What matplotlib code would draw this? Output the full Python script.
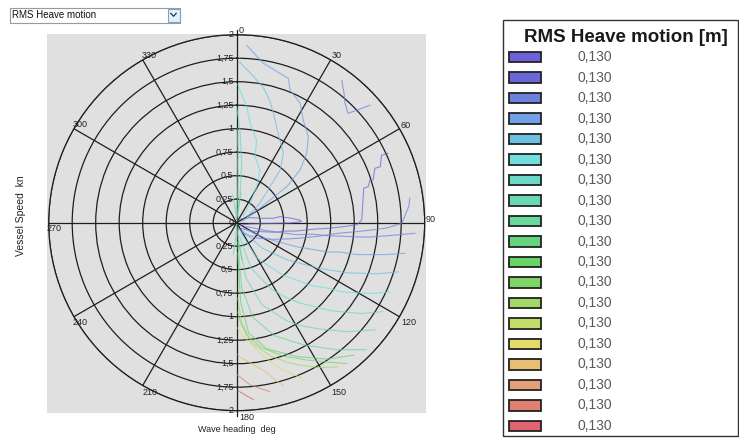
import numpy as np
import matplotlib
matplotlib.use("Agg")
import matplotlib.pyplot as plt
from matplotlib.patches import Rectangle

plt.rcParams['font.family'] = ['Liberation Sans', 'DejaVu Sans']

# ---------------- data ----------------
dropdown_text = "RMS Heave motion"
legend_title = "RMS Heave motion [m]"
legend_values = ["0,130"] * 19
legend_colors = ['#6a62d6', '#6a68d8', '#6e80de', '#70a0e6', '#6cc0e0', '#6edfdc',
                 '#6cd8c8', '#6cd8b2', '#6ad89a', '#66d47c', '#68d468', '#7ed464',
                 '#a2d868', '#c4dc6a', '#e2dc6a', '#e6c070', '#e4a076', '#e28070',
                 '#e26270']
heading_ticks = [0, 30, 60, 90, 120, 150, 180, 210, 240, 270, 300, 330]
speed_ticks = [0.25, 0.5, 0.75, 1.0, 1.25, 1.5, 1.75, 2.0]
speed_tick_labels = ["0,25", "0,5", "0,75", "1", "1,25", "1,5", "1,75", "2"]
x_label = "Wave heading  deg"
y_label = "Vessel Speed  kn"

# contour lines: (wave heading deg, vessel speed kn)
loop_90 = [(40, 0.05), (68.6, 0.15), (80.5, 0.28), (83, 0.39), (82, 0.465), (85, 0.57),
           (87.6, 0.67), (89, 0.69), (90.3, 0.57), (91.4, 0.35), (95.6, 0.14), (120, 0.05)]
line_f = [(65.4, 1.77), (65.0, 1.70), (68.7, 1.64), (68.5, 1.58), (72.6, 1.52), (72.2, 1.49),
          (74.7, 1.45), (74.8, 1.40), (82.8, 1.35), (88.8, 1.33), (91, 1.28), (92, 1.15),
          (93.4, 0.99), (94.5, 0.85), (97.9, 0.64), (100, 0.52), (104, 0.42), (108.7, 0.30),
          (120, 0.18), (140, 0.08)]
line_g = [(82, 1.86), (84.5, 1.84), (89.2, 1.77), (90.2, 1.755), (92, 1.60), (93, 1.45),
          (94.5, 1.25), (96, 1.08), (99, 0.90), (103, 0.72), (108, 0.56), (115, 0.42),
          (126, 0.28), (145, 0.15), (165, 0.06)]
zigzag_40 = [(36.5, 1.88), (40, 1.78), (42, 1.72), (45.5, 1.66), (47, 1.76), (48.6, 1.89)]
low_a = [(111.8, 0.11), (104.9, 0.33), (101.3, 0.65), (98.6, 0.82), (98.2, 0.97), (96.7, 1.29),
         (96.2, 1.42), (95.0, 1.60), (93.4, 1.90)]
low_b = [(126.9, 0.11), (118.1, 0.36), (111.8, 0.69), (107.9, 1.01), (105.8, 1.15),
         (104.9, 1.32), (102.0, 1.63), (100.3, 1.82)]
low_c = [(143.1, 0.11), (135, 0.38), (126.5, 0.66), (119.4, 0.98), (116.8, 1.12),
         (114.4, 1.29), (110.0, 1.59), (106.9, 1.80)]
low_d = [(158.2, 0.12), (150.3, 0.43), (139.1, 0.73), (130.0, 1.04), (126.0, 1.18),
         (123.3, 1.34), (117.7, 1.62), (114.3, 1.79)]
low_e = [(167.9, 0.15), (162.7, 0.50), (152.4, 0.80), (146.0, 0.97), (141.3, 1.10),
         (132.8, 1.38), (126.1, 1.64), (121.3, 1.82)]
low_f = [(173.7, 0.19), (170.7, 0.59), (163.0, 0.91), (153.0, 1.17), (148.5, 1.28),
         (143.0, 1.41), (134.7, 1.65), (127.8, 1.86)]
low_g = [(177.1, 0.21), (175.6, 0.69), (170.4, 1.02), (161.4, 1.27), (156.0, 1.37),
         (150.9, 1.49), (141.8, 1.72), (134.4, 1.93)]
low_h = [(178.1, 0.32), (177.1, 0.85), (173.8, 1.18), (166.6, 1.38), (160.5, 1.47),
         (155.9, 1.56), (146.5, 1.74), (138.6, 1.88)]
low_hi = [(179.3, 0.95), (178, 1.05), (175, 1.20), (169, 1.35), (161, 1.50), (156, 1.58),
          (153, 1.64), (146.5, 1.78), (142, 1.90)]
low_i = [(179.2, 0.80), (177.1, 1.07), (172.9, 1.29), (165.4, 1.47), (160.5, 1.57),
         (157.1, 1.64), (150.5, 1.77), (145.2, 1.87)]
low_j = [(179.5, 1.12), (176.7, 1.21), (172, 1.33), (168.8, 1.45), (166, 1.53), (163.4, 1.62),
         (160, 1.71), (157.3, 1.79)]
low_k = [(179.5, 1.40), (178.6, 1.43), (176, 1.47), (173.3, 1.52), (170, 1.59), (167.7, 1.66),
         (166, 1.73), (164, 1.80)]
low_l = [(179.8, 1.62), (178, 1.66), (175.3, 1.73), (172, 1.78), (168.9, 1.83)]
low_m = [(179.5, 1.79), (178.9, 1.80), (176.5, 1.85), (174.6, 1.89)]
up_1 = [(3.2, 1.89), (9.5, 1.72), (19.7, 1.63), (21.9, 1.52), (27.9, 1.44), (33, 1.30),
        (39.8, 1.19), (45.2, 1.05), (50.2, 0.88), (54.2, 0.66), (55.7, 0.43), (60.5, 0.20),
        (75, 0.06)]
up_2 = [(1, 1.71), (6, 1.58), (11, 1.47), (15, 1.35), (18.5, 1.23), (22, 1.12), (27.6, 0.99),
        (33.9, 0.89), (39.4, 0.73), (42.8, 0.52), (50, 0.32), (60, 0.13)]
up_3 = [(0.5, 1.47), (4.9, 1.24), (7.6, 1.07), (13.6, 0.90), (15.5, 0.73), (23.9, 0.61),
        (29, 0.44), (34.4, 0.25), (45, 0.10)]
up_4 = [(0, 1.23), (2, 0.99), (4.8, 0.63), (7.2, 0.28), (10, 0.08)]
up_5 = [(0.3, 1.0), (1.0, 0.75), (0.5, 0.5), (1.5, 0.3), (2, 0.1)]
haze_1 = [(352, 0.30), (354, 0.15), (0, 0.02)]
haze_2 = [(8, 0.32), (6, 0.15), (0, 0.02)]
haze_3 = [(186, 0.34), (184, 0.18), (180, 0.02)]
haze_4 = [(172, 0.40), (175, 0.20), (180, 0.02)]

contour_lines = [
    (loop_90, 0), (line_f, 1), (line_g, 2), (zigzag_40, 2), (low_a, 2), (low_b, 3),
    (low_c, 4), (low_d, 5), (low_e, 6), (low_f, 7), (low_g, 8), (low_h, 9), (low_hi, 11),
    (low_i, 12), (low_j, 14), (low_k, 15), (low_l, 17), (low_m, 18),
    (up_1, 3), (up_2, 4), (up_3, 5), (up_4, 6), (up_5, 8),
    (haze_1, 7), (haze_2, 8), (haze_3, 7), (haze_4, 9),
]

# ---------------- figure ----------------
W, H = 739, 445
fig = plt.figure(figsize=(W / 100, H / 100), dpi=100)
fig.patch.set_facecolor('white')

deco = fig.add_axes([0, 0, 1, 1])
deco.set_xlim(0, W)
deco.set_ylim(H, 0)
deco.axis('off')
deco.set_zorder(0)

cx, cy, R = 236.7, 222.7, 188.0
ax = fig.add_axes([(cx - R) / W, (H - cy - R) / H, 2 * R / W, 2 * R / H], projection='polar')
ax.set_zorder(1)
ax.patch.set_alpha(0)

# gray square behind the polar plot
deco.add_patch(Rectangle((47, 33.5), 379, 379, facecolor='#e0e0e0', edgecolor='none'))

ax.set_theta_zero_location('N')
ax.set_theta_direction(-1)
ax.set_ylim(0, 2)
ax.set_yticks(speed_ticks)
ax.set_xticks(np.deg2rad(heading_ticks))
ax.set_xticklabels([])
ax.set_yticklabels([])
ax.grid(True, color='#1e1e1e', lw=0.9)
ax.spines['polar'].set_color('#1e1e1e')
ax.spines['polar'].set_linewidth(0.9)

# vertical axis extends slightly past the rim
ax.plot([0, 0], [2, 2.05], color='#1e1e1e', lw=0.9, clip_on=False)
ax.plot([np.pi, np.pi], [2, 2.06], color='#1e1e1e', lw=0.9, clip_on=False)

# contour lines
for pts, ci in contour_lines:
    th = np.deg2rad([p[0] for p in pts])
    rr = [p[1] for p in pts]
    ax.plot(th, rr, color=legend_colors[ci], lw=0.8, alpha=0.72, zorder=3)

# heading labels at rim
px = 0.72
label_offsets = {0: (2, -4), 30: (1, -4), 60: (1, -3), 90: (1, -3), 120: (2, 6), 150: (1, 7),
                 180: (3, 7), 210: (0, 7), 240: (-1, 6), 270: (-2, 6), 300: (-1, -4),
                 330: (-1, -4)}
for h in heading_ticks:
    dx, dy = label_offsets[h]
    ax.annotate(str(h), xy=(np.deg2rad(h), 2), xytext=(dx * px, -dy * px),
                textcoords='offset points', ha='left', va='center', fontsize=6.5,
                color='#222222', annotation_clip=False)

# speed labels along the vertical axis
for r, lbl in zip(speed_ticks, speed_tick_labels):
    for th in (0, np.pi):
        ax.annotate(lbl, xy=(th, r), xytext=(-3.2 * px, 0), textcoords='offset points',
                    ha='right', va='center', fontsize=6.5, color='#222222',
                    annotation_clip=False)
ax.annotate("0", xy=(0, 0), xytext=(-3 * px, 0), textcoords='offset points',
            ha='right', va='center', fontsize=6.5, color='#222222')

# axis titles
deco.text(21, 216, y_label, rotation=90, ha='center', va='center', fontsize=7.5, color='#222222')
deco.text(237, 430, x_label, ha='center', va='center', fontsize=6.5, color='#222222')

# dropdown
deco.add_patch(Rectangle((10, 8), 170, 14.5, facecolor='white', edgecolor='#9a9a9a', lw=0.8))
deco.add_patch(Rectangle((167.5, 9), 12, 12.5, facecolor='#e3f0fa', edgecolor='#6aa7de', lw=0.8))
deco.plot([170.8, 173.5, 176.2], [13.3, 16.3, 13.3], color='#333333', lw=0.9)
deco.text(12.5, 15.3, dropdown_text, ha='left', va='center', fontsize=7, color='#111111')

# legend panel
deco.add_patch(Rectangle((502.5, 20), 235, 416, facecolor='white', edgecolor='#333333', lw=1.0))
deco.text(626, 38, legend_title, ha='center', va='center', fontsize=13.5, weight='bold',
          color='#1a1a1a')
rows = 57.2 + 20.48 * np.arange(len(legend_values))
deco.barh(rows, width=32, left=509, height=10.5, color=legend_colors, edgecolor='#222222',
          linewidth=1.3)
for yv, txt in zip(rows, legend_values):
    deco.text(577, yv, txt, ha='left', va='center', fontsize=10, color='#5a5a5a')

fig.savefig('out.png', dpi=100)
